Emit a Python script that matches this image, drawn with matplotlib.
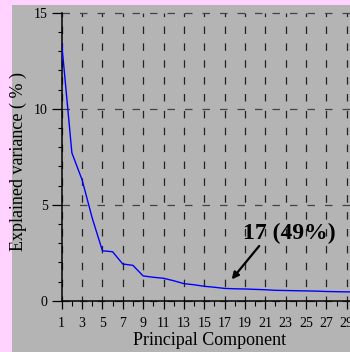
import matplotlib
matplotlib.use("Agg")
import matplotlib.pyplot as plt
from matplotlib.patches import Rectangle
from matplotlib.ticker import MultipleLocator, FixedLocator

# ---- data ----
components = list(range(1, 31))
explained = [13.4, 7.7, 6.3, 4.3, 2.6, 2.55, 1.91, 1.84, 1.29, 1.22,
             1.17, 1.04, 0.89, 0.83, 0.75, 0.70, 0.64, 0.62, 0.61, 0.59,
             0.57, 0.54, 0.53, 0.52, 0.51, 0.50, 0.48, 0.47, 0.46, 0.45]
x_ticks = list(range(1, 30, 2))
y_ticks = [0, 5, 10, 15]
annot_text = "17 (49%)"
annot_point = (17.7, 1.11)
annot_tail = (20.4, 2.85)
annot_text_pos = (23.35, 3.2)

plt.rcParams['font.family'] = ['Liberation Serif', 'DejaVu Serif']

W, H = 350, 352
fig = plt.figure(figsize=(W / 100, H / 100), dpi=100, facecolor='#ffd2ff')
fig.patches.append(Rectangle((12 / W, 0), 1 - 12 / W, (H - 5) / H,
                             transform=fig.transFigure, facecolor='#b4b4b4',
                             edgecolor='none', zorder=-10))

left, right = 61.7, 350.0
top, bottom = 12.7, 300.7
ax = fig.add_axes([left / W, (H - bottom) / H, (right - left) / W, (bottom - top) / H])
ax.set_facecolor('none')
ax.set_zorder(1)

ax.plot(components, explained, color='#0000ff', lw=1.0, zorder=3, clip_on=True)

ax.set_xlim(1, 1 + (right - left) / 10.18)
ax.set_ylim(0, 15)

ax.xaxis.set_major_locator(FixedLocator(x_ticks))
ax.xaxis.set_minor_locator(MultipleLocator(1))
ax.yaxis.set_major_locator(FixedLocator(y_ticks))
ax.yaxis.set_minor_locator(MultipleLocator(1))

for s in ['top', 'right']:
    ax.spines[s].set_visible(False)
for s in ['left', 'bottom']:
    ax.spines[s].set_linewidth(1.1)
    ax.spines[s].set_color('black')

ax.tick_params(axis='x', which='major', direction='out', length=5.8, width=0.9,
               pad=6, labelsize=10, colors='black')
ax.tick_params(axis='x', which='minor', direction='out', length=3.6, width=0.8)
ax.tick_params(axis='y', which='major', direction='out', length=7.2, width=0.9,
               pad=3, labelsize=10, colors='black')
ax.tick_params(axis='y', which='minor', direction='out', length=3.1, width=0.8)

ax.grid(True, axis='x', which='major', color='#222222', lw=0.9, ls=(2, (6, 7.5)))
ax.grid(True, axis='y', which='major', color='#444444', lw=0.9, ls=(0, (6, 8)))
ax.set_axisbelow(True)
for gl in ax.get_xgridlines() + ax.get_ygridlines():
    gl.set_clip_on(False)

ax.set_xlabel('Principal Component', fontsize=13)
ax.xaxis.set_label_coords((209.5 - left) / (right - left), -0.107)
ax.set_ylabel('Explained variance ( % )', fontsize=13)
ax.yaxis.set_label_coords(-0.12, 0.485)

ax.annotate('', xy=annot_point, xytext=annot_tail,
            arrowprops=dict(arrowstyle='-|>', color='black', lw=1.6,
                            mutation_scale=10, shrinkA=0, shrinkB=0))
ax.text(annot_text_pos[0], annot_text_pos[1], annot_text, fontsize=17,
        fontweight='bold', ha='center', va='baseline', color='black')

fig.savefig('out.png', dpi=100, facecolor=fig.get_facecolor())
